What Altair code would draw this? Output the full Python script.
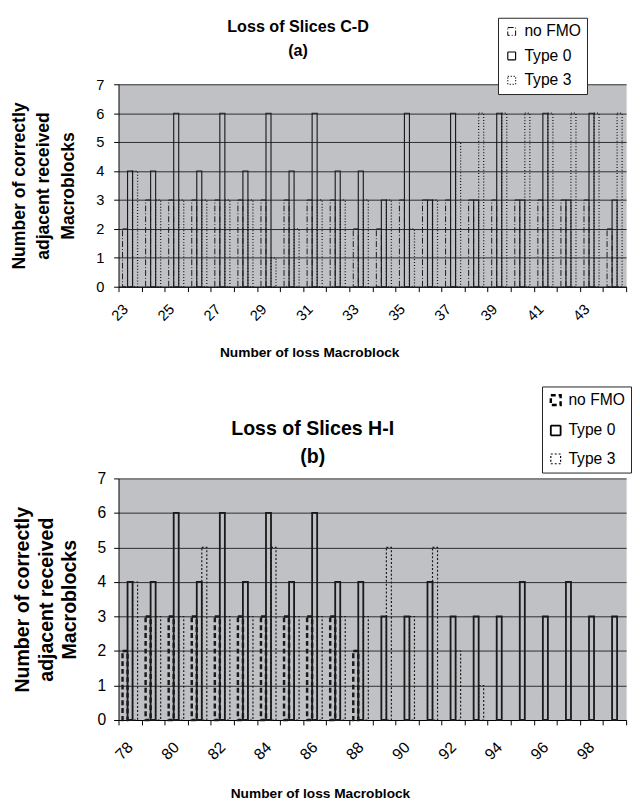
import altair as alt
import pandas as pd

series = ["no FMO", "Type 0", "Type 3"]

# Panel (a): Loss of Slices C-D
cats_a = list(range(23, 45))
nofmo_a = [2, 3, 3, 3, 3, 3, 3, 3, 3, 3, 2, 2, 3, 3, 3, 3, 3, 3, 3, 3, 3, 2]
type0_a = [4, 4, 6, 4, 6, 4, 6, 4, 6, 4, 4, 3, 6, 3, 6, 3, 6, 3, 6, 3, 6, 3]
type3_a = [4, 3, 3, 3, 3, 3, 1, 2, 3, 3, 3, 3, 2, 3, 5, 6, 6, 6, 6, 6, 6, 6]

# Panel (b): Loss of Slices H-I
cats_b = list(range(78, 100))
nofmo_b = [2, 3, 3, 3, 3, 3, 3, 3, 3, 3, 2, 0, 0, 0, 0, 0, 0, 0, 0, 0, 0, 0]
type0_b = [4, 4, 6, 4, 6, 4, 6, 4, 6, 4, 4, 3, 3, 4, 3, 3, 3, 4, 3, 4, 3, 3]
type3_b = [4, 3, 3, 5, 3, 3, 5, 3, 3, 3, 3, 5, 3, 5, 2, 1, 0, 0, 0, 0, 0, 0]

y_title = ["Number of correctly", "adjacent received", "Macroblocks"]
x_title = "Number of loss Macroblock"

BG = "#c0c1c5"
FONT = "Liberation Sans"


def long_df(cats, a, b, c):
    rows = []
    for i, cat in enumerate(cats):
        for s, vals in zip(series, (a, b, c)):
            if vals[i] > 0:
                rows.append({"cat": cat, "series": s, "value": vals[i]})
    return pd.DataFrame(rows)


def panel(df, width, height, title, sub, tsize, tdx, tdy, tsubpad, parity,
          ytsize, ytlh, ytpad, ylsize, ylpad, xlsize, xlpad, xloff, xtx, xty,
          dash_range, width_range, lx, ly, lfont, lrow, lpad, lsym):
    legend = alt.Legend(
        orient="none", legendX=lx, legendY=ly, title=None,
        fillColor="white", strokeColor="#222", padding=lpad,
        rowPadding=lrow, labelFontSize=lfont, labelFont=FONT,
        labelColor="black", symbolType="square", symbolSize=lsym,
        symbolStrokeColor="black", symbolFillColor="white", labelOffset=5,
    )
    return alt.Chart(df).mark_bar(filled=False, stroke="#1a1a1a").encode(
        x=alt.X(
            "cat:O", title=x_title,
            scale=alt.Scale(paddingInner=0, paddingOuter=0),
            axis=alt.Axis(
                labelAngle=-45, labelAlign="right", labelBaseline="middle",
                labelExpr=f"datum.value % 2 == {parity} ? datum.label : ''",
                tickBand="extent", tickSize=5, labelPadding=xlpad,
                labelOffset=xloff,
                labelFontSize=xlsize, labelFont=FONT, labelColor="black",
                titleX=xtx, titleY=xty, titleAlign="center",
                titleBaseline="alphabetic", titleFontSize=14,
                titleFontWeight="bold", titleFont=FONT, titleColor="black",
                domainColor="black", tickColor="black", grid=False,
            ),
        ),
        xOffset=alt.XOffset(
            "series:N",
            scale=alt.Scale(domain=series, paddingInner=0, paddingOuter=0.8),
        ),
        y=alt.Y(
            "value:Q",
            scale=alt.Scale(domain=[0, 7], nice=False),
            axis=alt.Axis(
                values=list(range(8)), grid=True, gridColor="#2b2b2b",
                tickSize=5, tickColor="black", domainColor="black",
                labelFontSize=ylsize, labelFont=FONT, labelColor="black",
                labelPadding=ylpad, title=y_title, titleFontSize=ytsize,
                titleLineHeight=ytlh, titleFontWeight="bold",
                titleFont=FONT, titleColor="black", titlePadding=ytpad,
            ),
        ),
        strokeDash=alt.StrokeDash(
            "series:N", scale=alt.Scale(domain=series, range=dash_range),
            legend=legend,
        ),
        strokeWidth=alt.StrokeWidth(
            "series:N", scale=alt.Scale(domain=series, range=width_range),
            legend=legend,
        ),
    ).properties(
        width=width, height=height,
        title=alt.Title(
            text=title, subtitle=sub, fontSize=tsize, subtitleFontSize=tsize,
            fontWeight="bold", subtitleFontWeight="bold", font=FONT,
            subtitleFont=FONT, color="black", subtitleColor="black",
            anchor="middle", frame="group", dx=tdx, dy=tdy,
            subtitlePadding=tsubpad,
        ),
    )


chart_a = panel(
    long_df(cats_a, nofmo_a, type0_a, type3_a), 519, 207,
    "Loss of Slices C-D", "(a)", 16.5, -76, 47, 8, 1,
    18, 25, 19, 15, 10, 15, 15, -5, 195, 71,
    [[6, 2, 1, 2], [1, 0], [1, 2]], [1, 1.3, 1],
    388, -68, 16, 9, 6, 64,
)

chart_b = panel(
    long_df(cats_b, nofmo_b, type0_b, type3_b), 519, 247,
    "Loss of Slices H-I", "(b)", 20, -61, 87, 9, 0,
    20, 24, 18, 16, 8, 16, 20, 0, 206, 79,
    [[5, 3], [1, 0], [2, 2]], [2.5, 1.2, 2.5],
    433, -94, 16, 12, 6, 100,
)

chart = alt.vconcat(chart_a, chart_b, spacing=27).resolve_scale(
    x="independent", y="independent",
    strokeDash="independent", strokeWidth="independent",
).resolve_legend(
    strokeDash="independent", strokeWidth="independent",
).configure(
    padding={"left": 2, "top": 0, "right": 0, "bottom": 0},
    font=FONT,
).configure_view(fill=BG, strokeOpacity=0)

chart.save("out.html", embed_options={"renderer": "svg", "actions": False})
